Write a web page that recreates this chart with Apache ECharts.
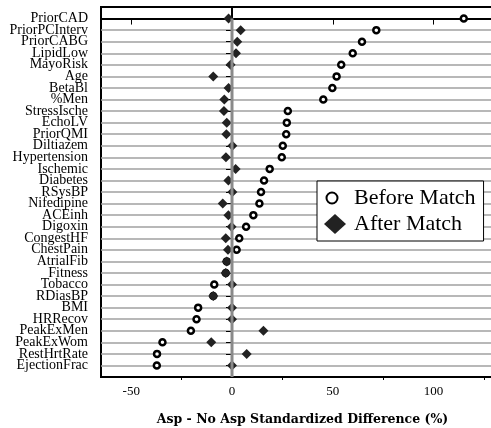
<!DOCTYPE html>
<html>
<head>
<meta charset="utf-8">
<script src="https://cdn.jsdelivr.net/npm/echarts@6/dist/echarts.min.js"></script>
<style>html,body{margin:0;padding:0;background:#fff;}#c{width:491px;height:428px;}</style>
</head>
<body>
<div id="c"></div>
<script>
var categories = ['PriorCAD','PriorPCInterv','PriorCABG','LipidLow','MayoRisk','Age','BetaBl','%Men','StressIsche','EchoLV','PriorQMI','Diltiazem','Hypertension','Ischemic','Diabetes','RSysBP','Nifedipine','ACEinh','Digoxin','CongestHF','ChestPain','AtrialFib','Fitness','Tobacco','RDiasBP','BMI','HRRecov','PeakExMen','PeakExWom','RestHrtRate','EjectionFrac'];
var beforeMatch = [115, 71.6, 64.5, 59.9, 54.2, 51.9, 49.8, 45.3, 27.7, 27.2, 26.9, 25.2, 24.7, 18.7, 15.9, 14.4, 13.6, 10.6, 7.0, 3.6, 2.3, -2.6, -3.1, -8.8, -9.3, -16.8, -17.6, -20.4, -34.5, -37.2, -37.3];
var afterMatch = [-1.7, 4.3, 2.6, 2.0, -0.7, -9.3, -1.7, -3.8, -4.0, -2.6, -2.8, 0.2, -3.0, 1.8, -1.8, 0.2, -4.6, -1.8, -0.2, -3.1, -2.0, -2.6, -3.1, 0, -9.3, 0, 0, 15.6, -10.3, 7.3, 0];
var majorTicks = [-50, 0, 50, 100];
var minorTicks = [-25, 25, 75, 125];
var seriesNames = ['Before Match', 'After Match'];
var xTitle = 'Asp - No Asp Standardized Difference (%)';

var FONT = 'Liberation Serif';
var catIdx = categories.map(function(c, i){ return i; });
var chart = echarts.init(document.getElementById('c'), null, {renderer: 'canvas'});
var circleIcon = 'path://M0,0M22,20M2.5,10a5.5,5.5 0 1,0 11,0a5.5,5.5 0 1,0 -11,0Z';

chart.setOption({
  animation: false,
  backgroundColor: '#fff',
  grid: {left: 101, top: 7, right: -3, bottom: 51, show: true, borderColor: '#000', borderWidth: 2,
    backgroundColor: 'transparent', containLabel: false, outerBoundsMode: 'none'},
  legend: {
    orient: 'vertical', left: 317, top: 181,
    padding: [6, 8, 6, 6], itemGap: 4, itemWidth: 22, itemHeight: 20,
    backgroundColor: '#fff', borderColor: '#000', borderWidth: 1,
    textStyle: {fontFamily: FONT, fontSize: 22, color: '#000', padding: [0, 0, 0, 3]},
    data: [
      {name: seriesNames[0], icon: circleIcon, itemStyle: {color: '#fff', borderColor: '#000', borderWidth: 2}},
      {name: seriesNames[1], icon: 'diamond', itemStyle: {color: '#222'}}
    ]
  },
  xAxis: [{
    type: 'value', min: -65, max: 130, position: 'bottom',
    axisLine: {show: true, lineStyle: {color: '#000', width: 2}},
    axisTick: {show: true, customValues: majorTicks, length: 6, inside: false, lineStyle: {color: '#000', width: 1}},
    axisLabel: {customValues: majorTicks, fontFamily: FONT, fontSize: 13, color: '#000', margin: 8},
    splitLine: {show: false},
    name: xTitle, nameLocation: 'middle', nameGap: 36,
    nameTextStyle: {fontFamily: 'DejaVu Serif', fontSize: 12.5, fontWeight: 'bold', color: '#000', padding: [0, 0, 0, 10]}
  }, {
    type: 'value', min: -65, max: 130, position: 'bottom',
    axisLine: {show: false},
    axisTick: {show: true, customValues: minorTicks, length: 3, inside: false, lineStyle: {color: '#000', width: 1}},
    axisLabel: {show: false},
    splitLine: {show: false}
  }],
  yAxis: {
    type: 'value', inverse: true, min: -1, max: 31, interval: 1,
    axisLine: {show: true, lineStyle: {color: '#000', width: 2}},
    axisTick: {show: true, customValues: catIdx, length: 6, lineStyle: {color: '#000', width: 1}},
    axisLabel: {fontFamily: FONT, fontSize: 14, color: '#000', margin: 13, showMinLabel: true, showMaxLabel: true, hideOverlap: false,
      formatter: function(v){ return categories[v] !== undefined ? categories[v] : ''; }},
    splitLine: {show: true, lineStyle: {color: '#a0a0a0', width: 1.5}}
  },
  series: [{
    name: seriesNames[0], type: 'scatter', symbol: 'circle', symbolSize: 6, z: 3,
    itemStyle: {color: '#fff', borderColor: '#000', borderWidth: 2.5, opacity: 1},
    data: beforeMatch.map(function(v, i){ return [v, i]; })
  }, {
    name: seriesNames[1], type: 'scatter', symbol: 'diamond', symbolSize: [10, 10], z: 4,
    itemStyle: {color: '#222', opacity: 1},
    data: afterMatch.map(function(v, i){ return [v, i]; })
  }, {
    name: 'zero', type: 'line', symbol: 'none', z: 5, silent: true,
    lineStyle: {color: '#8a8a8a', width: 3},
    data: [[0, 0], [0, 31]]
  }]
});
</script>
</body>
</html>
